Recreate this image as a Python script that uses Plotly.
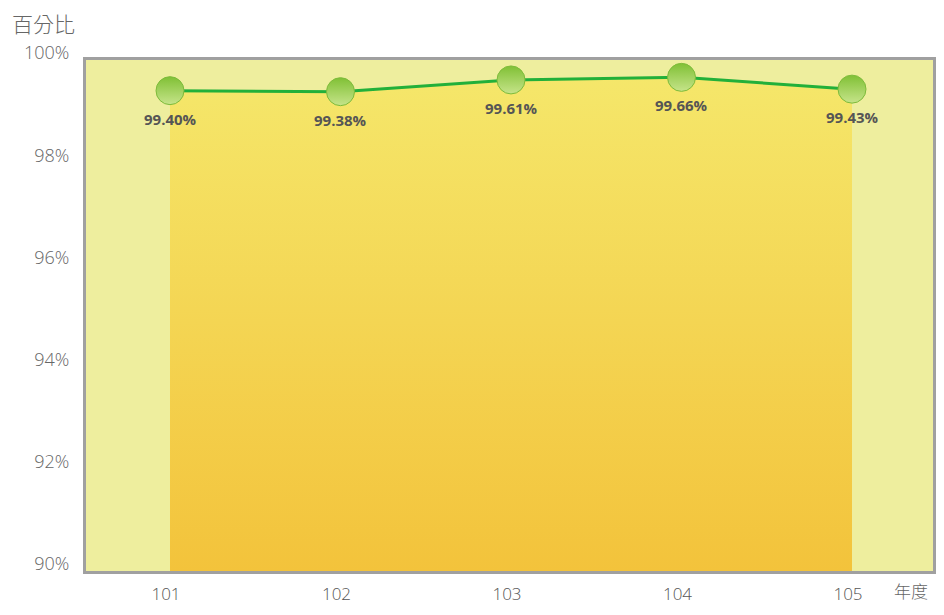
import plotly.graph_objects as go

years = ["101", "102", "103", "104", "105"]
values = [99.40, 99.38, 99.61, 99.66, 99.43]
labels = ["99.40%", "99.38%", "99.61%", "99.66%", "99.43%"]
y_ticks = [90, 92, 94, 96, 98, 100]
y_tick_text = ["90%", "92%", "94%", "96%", "98%", "100%"]

fig = go.Figure()

# gradient area under the line
fig.add_trace(go.Scatter(
    x=years, y=values, mode="none", fill="tozeroy",
    fillgradient=dict(type="vertical", start=90, stop=100,
                      colorscale=[[0, "#F3C33B"], [1, "#F5E86C"]]),
    hoverinfo="skip", showlegend=False,
))

# line with markers
fig.add_trace(go.Scatter(
    x=years, y=values, mode="lines+markers",
    line=dict(color="#22B03A", width=3),
    marker=dict(size=28, color="#80C035",
                gradient=dict(type="vertical", color="#C6E48A"),
                line=dict(color="#7DBB3A", width=1)),
    showlegend=False,
))

# value labels (category index used as x position)
annotations = [
    dict(x=i, y=yv, text=t, xref="x", yref="y", showarrow=False,
         yshift=-28, xanchor="center", yanchor="middle",
         font=dict(family="Open Sans, Noto Sans, sans-serif", size=15,
                   color="#555555", weight="bold"))
    for i, (yv, t) in enumerate(zip(values, labels))
]
annotations += [
    dict(text="百分比", xref="paper", yref="paper", x=-0.0897, y=1.0724,
         xanchor="left", yanchor="middle", showarrow=False,
         font=dict(size=21, color="#666666", family="Noto Sans CJK TC", weight=300)),
    dict(text="年度", xref="paper", yref="paper", x=0.997, y=-0.038,
         xanchor="right", yanchor="middle", showarrow=False,
         font=dict(size=17, color="#666666", family="Noto Sans CJK TC", weight=300)),
]

fig.update_layout(
    width=928, height=599,
    margin=dict(l=78, r=3, t=52, b=36, autoexpand=False),
    paper_bgcolor="white",
    plot_bgcolor="#EEEE9E",
    font=dict(family="Open Sans, Noto Sans CJK TC, sans-serif", color="#666666", size=16),
    xaxis=dict(
        type="category", range=[-0.4927, 4.4751], automargin=False,
        showgrid=False, zeroline=False,
        showline=True, mirror=True, linecolor="#A0A0A0", linewidth=3,
        ticks="", ticklabelstandoff=6, ticklabelshift=-4,
        tickfont=dict(size=17, color="#555555", weight=300),
    ),
    yaxis=dict(
        range=[90, 100], tickvals=y_ticks, ticktext=y_tick_text, automargin=False,
        showgrid=False, zeroline=False,
        showline=True, mirror=True, linecolor="#A0A0A0", linewidth=3,
        ticks="", ticklabelstandoff=10, ticklabelshift=-7,
        tickfont=dict(size=18, color="#666666", weight=300),
    ),
    annotations=annotations,
)

fig.write_html("out.html")
